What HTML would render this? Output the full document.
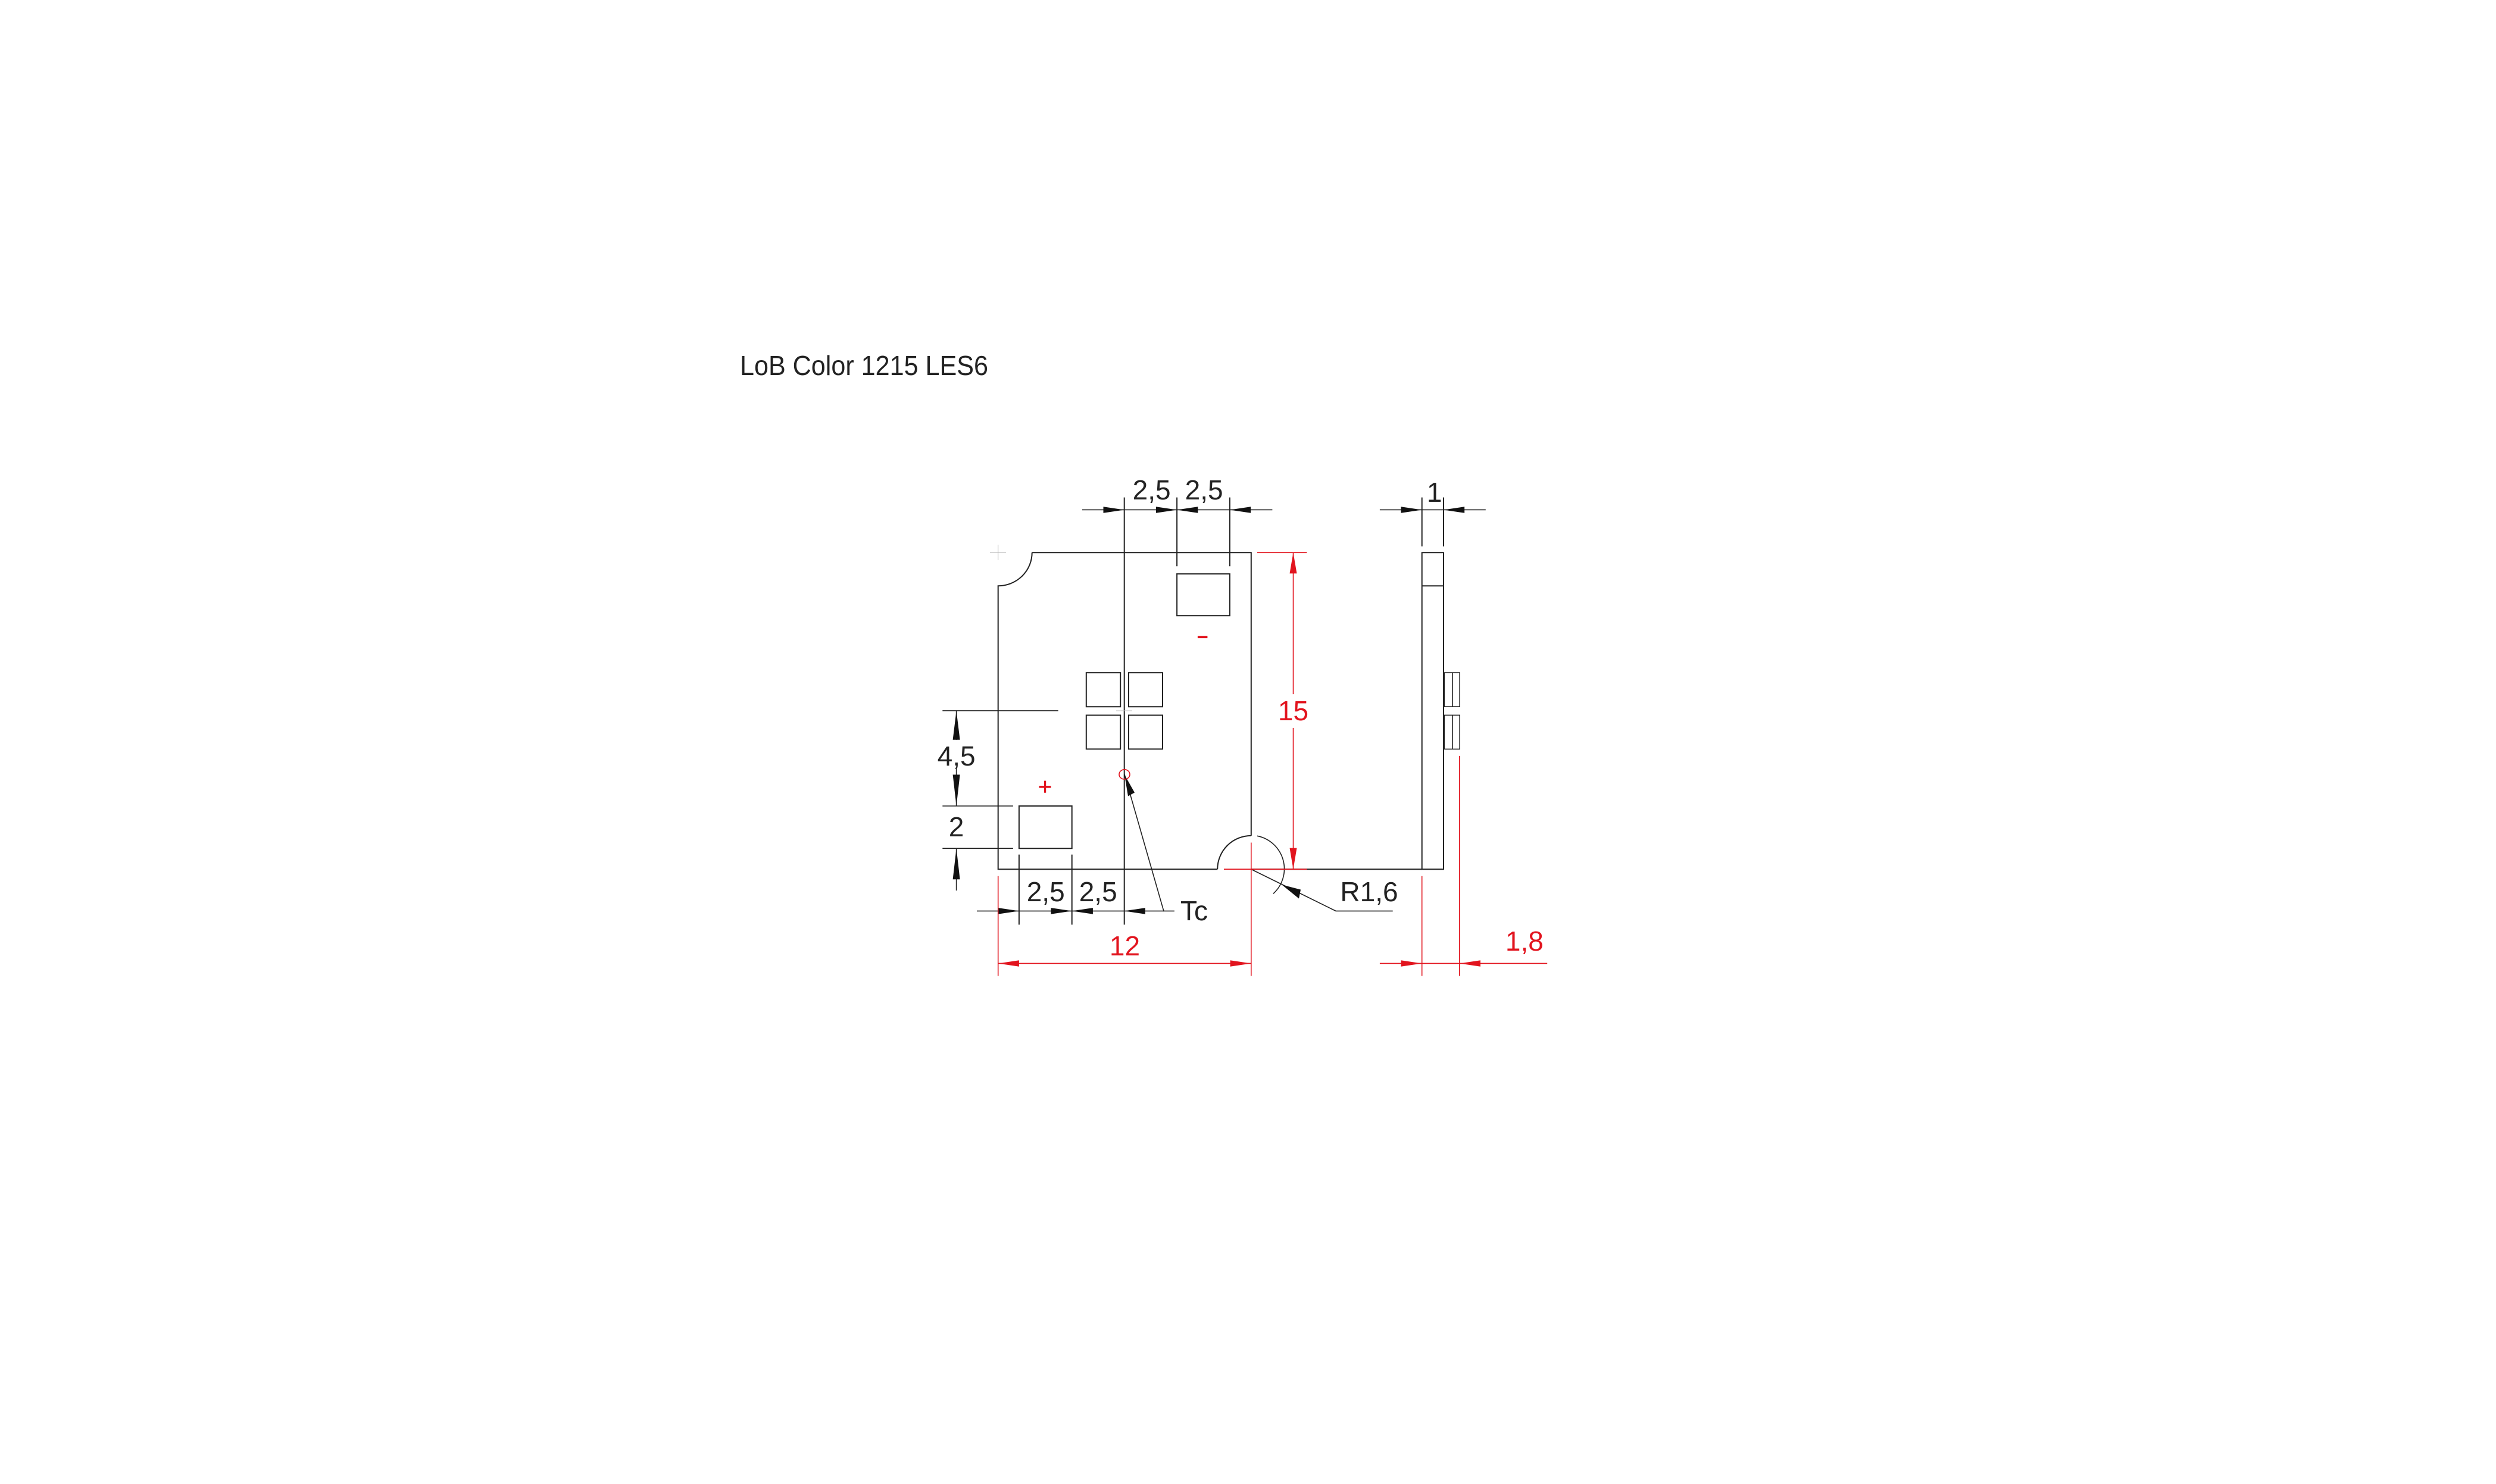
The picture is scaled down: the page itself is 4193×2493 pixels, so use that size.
<!DOCTYPE html>
<html><head><meta charset="utf-8"><style>html,body{margin:0;padding:0;background:#fff}svg{display:block}</style></head>
<body>
<svg width="4193" height="2493" viewBox="0 0 4193 2493" xmlns="http://www.w3.org/2000/svg" font-family="Liberation Sans, sans-serif">
<rect width="4193" height="2493" fill="#fff"/>
<text x="1243" y="630" font-size="46" fill="#222" textLength="417" lengthAdjust="spacingAndGlyphs">LoB Color 1215 LES6</text>

<g transform="matrix(1,0,0,1.5026,0,-392.03)">
<g stroke="#222" stroke-width="2" fill="none">
<path vector-effect="non-scaling-stroke" d="M1733.7,878.7 H2101.8 V1195.2 M2045.2,1232.7 H1676.7 V915.9 A57,37.2 0 0 0 1733.7,878.7"/>
<path vector-effect="non-scaling-stroke" d="M2045.2,1232.7 A56.6,37.5 0 0 1 2101.8,1195.2"/>
<path vector-effect="non-scaling-stroke" d="M2112,1195.5 A56.6,37.5 0 0 1 2139,1260" stroke-width="1.6"/>
<line vector-effect="non-scaling-stroke" x1="1888.7" y1="817" x2="1888.7" y2="1294.7"/>
<rect vector-effect="non-scaling-stroke" x="1977.1" y="902.5" width="88.8" height="46.7"/>
<rect vector-effect="non-scaling-stroke" x="1711.9" y="1162" width="88.8" height="47.4"/>
<rect vector-effect="non-scaling-stroke" x="1824.8" y="1013" width="57.4" height="38"/>
<rect vector-effect="non-scaling-stroke" x="1896" y="1013" width="57" height="38"/>
<rect vector-effect="non-scaling-stroke" x="1824.8" y="1060.5" width="57.4" height="37.9"/>
<rect vector-effect="non-scaling-stroke" x="1896" y="1060.5" width="57" height="37.9"/>
<line vector-effect="non-scaling-stroke" x1="1817.9" y1="830.9" x2="2137.4" y2="830.9" stroke-width="1.6"/>
<line vector-effect="non-scaling-stroke" x1="1977.1" y1="817" x2="1977.1" y2="894"/>
<line vector-effect="non-scaling-stroke" x1="2065.9" y1="817" x2="2065.9" y2="894"/>
<line vector-effect="non-scaling-stroke" x1="1583.3" y1="1055.5" x2="1777.7" y2="1055.5" stroke-width="1.6"/>
<line vector-effect="non-scaling-stroke" x1="1583.3" y1="1162" x2="1701.9" y2="1162" stroke-width="1.6"/>
<line vector-effect="non-scaling-stroke" x1="1583.3" y1="1209.4" x2="1701.9" y2="1209.4" stroke-width="1.6"/>
<line vector-effect="non-scaling-stroke" x1="1606.6" y1="1055.5" x2="1606.6" y2="1088" stroke-width="1.6"/>
<line vector-effect="non-scaling-stroke" x1="1606.6" y1="1119" x2="1606.6" y2="1162" stroke-width="1.6"/>
<line vector-effect="non-scaling-stroke" x1="1606.6" y1="1209.4" x2="1606.6" y2="1256.5" stroke-width="1.6"/>
<line vector-effect="non-scaling-stroke" x1="1641" y1="1279.4" x2="1954.9" y2="1279.4" stroke-width="1.6"/>
<line vector-effect="non-scaling-stroke" x1="1711.9" y1="1216.3" x2="1711.9" y2="1294.7"/>
<line vector-effect="non-scaling-stroke" x1="1800.7" y1="1216.3" x2="1800.7" y2="1294.7"/>
<polyline vector-effect="non-scaling-stroke" points="1889,1126.7 1954.9,1279.4 1972.9,1279.4" stroke-width="1.6"/>
<polyline vector-effect="non-scaling-stroke" points="2101.8,1232.7 2244,1279.4 2339.7,1279.4" stroke-width="1.6"/>
<rect vector-effect="non-scaling-stroke" x="2388.7" y="878.7" width="36.3" height="354"/>
<line vector-effect="non-scaling-stroke" x1="2388.7" y1="915.9" x2="2425" y2="915.9"/>
<rect vector-effect="non-scaling-stroke" x="2426.2" y="1013" width="26" height="38" stroke-width="1.6"/>
<rect vector-effect="non-scaling-stroke" x="2426.2" y="1060.5" width="26" height="37.9" stroke-width="1.6"/>
<line vector-effect="non-scaling-stroke" x1="2440" y1="1013" x2="2440" y2="1051" stroke-width="1.6"/>
<line vector-effect="non-scaling-stroke" x1="2440" y1="1060.5" x2="2440" y2="1098.4" stroke-width="1.6"/>
<line vector-effect="non-scaling-stroke" x1="2101.8" y1="1232.7" x2="2388.7" y2="1232.7"/>
<line vector-effect="non-scaling-stroke" x1="2317.9" y1="830.9" x2="2495.8" y2="830.9" stroke-width="1.6"/>
<line vector-effect="non-scaling-stroke" x1="2388.7" y1="817" x2="2388.7" y2="871.8"/>
<line vector-effect="non-scaling-stroke" x1="2425" y1="817" x2="2425" y2="871.8"/>
</g>
<g stroke="#bbb" stroke-width="1">
<line vector-effect="non-scaling-stroke" x1="1663" y1="878.7" x2="1690" y2="878.7"/><line vector-effect="non-scaling-stroke" x1="1676.7" y1="870" x2="1676.7" y2="887"/>
<line vector-effect="non-scaling-stroke" x1="1875" y1="1055.5" x2="1902" y2="1055.5"/>
</g>
<g fill="#111">
<polygon points="1888.7,830.9 1853.5,827.4 1853.5,834.4"/>
<polygon points="1977.1,830.9 1941.9,827.4 1941.9,834.4"/>
<polygon points="1977.1,830.9 2012.3,827.4 2012.3,834.4"/>
<polygon points="2065.9,830.9 2101.1,827.4 2101.1,834.4"/>
<polygon points="1606.6,1055.5 1600.6,1088 1612.6,1088"/>
<polygon points="1606.6,1162 1600.6,1127 1612.6,1127"/>
<polygon points="1606.6,1209.4 1600.6,1244 1612.6,1244"/>
<polygon points="1711.9,1279.4 1676.7,1275.9 1676.7,1282.9"/>
<polygon points="1800.7,1279.4 1765.5,1275.9 1765.5,1282.9"/>
<polygon points="1800.7,1279.4 1835.9,1275.9 1835.9,1282.9"/>
<polygon points="1888.7,1279.4 1923.9,1275.9 1923.9,1282.9"/>
<polygon points="1889,1127 1895,1151 1906,1147"/>
<polygon points="2153.3,1250 2185,1255.5 2182,1265.5"/>
<polygon points="2388.7,830.9 2353.5,827.4 2353.5,834.4"/>
<polygon points="2425,830.9 2460.2,827.4 2460.2,834.4"/>
</g>
<g stroke="#e2141e" stroke-width="1.6" fill="none">
<line vector-effect="non-scaling-stroke" x1="2056" y1="1232.7" x2="2195.4" y2="1232.7"/>
<line vector-effect="non-scaling-stroke" x1="2112" y1="878.7" x2="2195.4" y2="878.7"/>
<line vector-effect="non-scaling-stroke" x1="2101.8" y1="1202.9" x2="2101.8" y2="1352"/>
<line vector-effect="non-scaling-stroke" x1="1676.7" y1="1240.4" x2="1676.7" y2="1352"/>
<line vector-effect="non-scaling-stroke" x1="1676.7" y1="1338" x2="2101.8" y2="1338"/>
<line vector-effect="non-scaling-stroke" x1="2172.5" y1="878.7" x2="2172.5" y2="1037"/>
<line vector-effect="non-scaling-stroke" x1="2172.5" y1="1074.7" x2="2172.5" y2="1232.7"/>
<line vector-effect="non-scaling-stroke" x1="2388.7" y1="1240.4" x2="2388.7" y2="1352"/>
<line vector-effect="non-scaling-stroke" x1="2451.8" y1="1106" x2="2451.8" y2="1352"/>
<line vector-effect="non-scaling-stroke" x1="2317.9" y1="1338" x2="2599.2" y2="1338"/>
<ellipse vector-effect="non-scaling-stroke" cx="1889" cy="1126.7" rx="9" ry="5.4"/>
</g>
<g fill="#e2141e">
<polygon points="1676.7,1338 1711.9,1334.5 1711.9,1341.5"/>
<polygon points="2101.8,1338 2066.6,1334.5 2066.6,1341.5"/>
<polygon points="2172.5,878.7 2166.5,902 2178.5,902"/>
<polygon points="2172.5,1232.7 2166.5,1209 2178.5,1209"/>
<polygon points="2388.7,1338 2353.5,1334.5 2353.5,1341.5"/>
<polygon points="2451.8,1338 2487,1334.5 2487,1341.5"/>
<rect x="2011.9" y="971.8" width="16.5" height="2.6"/>
<rect x="1745.5" y="1139.4" width="20" height="2.4"/>
<rect x="1754" y="1133.8" width="3.2" height="13.4"/>
</g>
</g>

<g font-size="46" fill="#222" text-anchor="middle">
<text x="1934.6" y="839">2,5</text>
<text x="2022.6" y="839">2,5</text>
<text x="1606.6" y="1286">4,5</text>
<text x="1606.6" y="1405">2</text>
<text x="1756.7" y="1514">2,5</text>
<text x="1844.7" y="1514">2,5</text>
<text x="2409.7" y="843">1</text>
<text x="2006" y="1546">Tc</text>
<text x="2300" y="1514">R1,6</text>
</g>
<g font-size="46" fill="#e2141e" text-anchor="middle">
<text x="1889.5" y="1605">12</text>
<text x="2172.5" y="1210">15</text>
<text x="2560.9" y="1597">1,8</text>
</g>
</svg>
</body></html>
